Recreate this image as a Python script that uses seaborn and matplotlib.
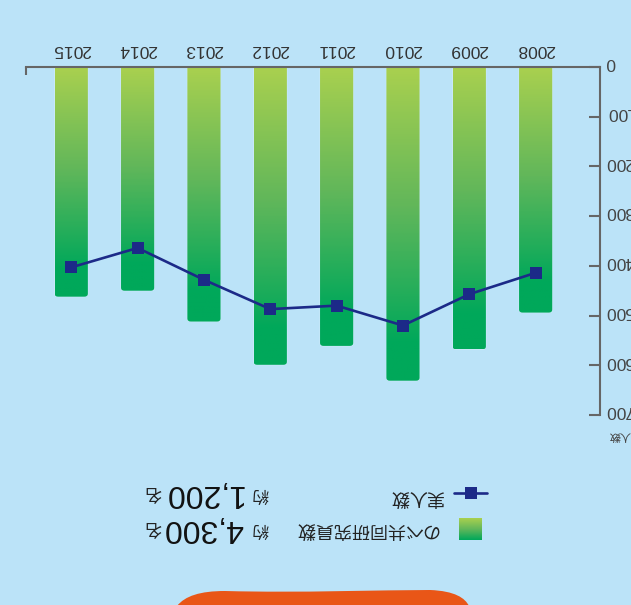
import numpy as np
import pandas as pd
import matplotlib
matplotlib.use("Agg")
import matplotlib.pyplot as plt
import matplotlib.transforms as mtransforms
import seaborn as sns
from matplotlib.patches import FancyBboxPatch, PathPatch
from matplotlib.path import Path
from matplotlib.lines import Line2D
from matplotlib.colors import LinearSegmentedColormap

# データ
years = ['2008', '2009', '2010', '2011', '2012', '2013', '2014', '2015']
nobe = [494, 568, 631, 561, 599, 512, 450, 462]      # のべ共同研究員数
jitsu = [414, 457, 520, 480, 487, 428, 364, 403]     # 実人数
yticks = [0, 100, 200, 300, 400, 500, 600, 700]

legend_bar = 'のべ共同研究員数'
legend_line = '実人数'
total_bar = '4,300'
total_line = '1,200'

BG = '#bbe3f8'
NAVY = '#1c2a88'
GRAY = '#666666'

sns.set_style('white')
plt.rcParams['font.family'] = ['Liberation Sans', 'Noto Sans CJK JP', 'DejaVu Sans']

W, H = 631, 605
fig = plt.figure(figsize=(W / 100, H / 100), dpi=100, facecolor=BG)

def fx(px):
    return px / W

def fy(py):
    return 1 - py / H

ax = fig.add_axes([fx(25.5), fy(415), fx(600 - 25.5), (415 - 67) / H])
ax.set_facecolor(BG)

df = pd.DataFrame({'year': years, 'nobe': nobe})
sns.barplot(data=df, x='year', y='nobe', order=years, width=0.5, color='#a8cf50', ax=ax)

# グラデーション（棒ごと）
cmap = LinearSegmentedColormap.from_list('g', ['#a9d04f', '#62b75a', '#00a85a'])
grad = np.linspace(0, 1, 256)
grad = np.clip(grad / 0.88, 0, 1).reshape(-1, 1)

bars = list(ax.patches)
for p in bars:
    x0, w, h = p.get_x(), p.get_width(), p.get_height()
    p.set_visible(False)
    shape = FancyBboxPatch((x0, -20), w, h + 20,
                           boxstyle='round,pad=0,rounding_size=0.05',
                           mutation_aspect=120, facecolor='none',
                           edgecolor=(1, 1, 1, 0.25), linewidth=0.8)
    ax.add_patch(shape)
    im = ax.imshow(grad, cmap=cmap, vmin=0, vmax=1, aspect='auto',
                   extent=(x0, x0 + w, h, 0), origin='upper', zorder=1)
    im.set_clip_path(shape)

sns.lineplot(x=np.arange(len(years)), y=jitsu, color=NAVY, linewidth=1.9,
             marker='s', markersize=8.5, markeredgewidth=0, ax=ax, zorder=3)

ax.set_xlim(7.69, -0.97)
ax.set_ylim(700, 0)
ax.set_xlabel('')
ax.set_ylabel('')

for s in ['left', 'bottom']:
    ax.spines[s].set_visible(False)
for s in ['top', 'right']:
    ax.spines[s].set_color(GRAY)
    ax.spines[s].set_linewidth(1.5)

ax.xaxis.tick_top()
ax.set_xticks(range(len(years)))
ax.set_xticklabels(years, rotation=180, fontsize=12.5, color='#333333')
ax.tick_params(axis='x', which='major', length=0, pad=7)
ax.set_xticks([7.69], minor=True)
ax.tick_params(axis='x', which='minor', direction='in', length=6, width=1.5, color=GRAY, top=True, bottom=False)

ax.yaxis.tick_right()
ax.set_yticks(yticks)
ax.set_yticklabels([str(v) for v in yticks], rotation=180, fontsize=12.5, color='#444444')
ax.tick_params(axis='y', direction='in', length=8, width=1.5, color=GRAY, pad=4)
shift = mtransforms.ScaledTranslation(0, 3 / 72, fig.dpi_scale_trans)
for lab in ax.get_yticklabels():
    lab.set_horizontalalignment('left')
    lab.set_verticalalignment('center')
    lab.set_transform(lab.get_transform() + shift)

fig.text(fx(608), fy(436), '人数', rotation=180, fontsize=8, color='#444444', ha='left', va='center')

# 凡例
fig.add_artist(Line2D([fx(454), fx(487)], [fy(493), fy(493)], color=NAVY, linewidth=1.9,
                      transform=fig.transFigure))
fig.add_artist(Line2D([fx(471)], [fy(493)], color=NAVY, marker='s', markersize=8.5,
                      markeredgewidth=0, transform=fig.transFigure))
lax = fig.add_axes([fx(459), fy(540), fx(23), 22 / H])
lax.imshow(np.linspace(0, 1, 64).reshape(-1, 1), cmap=cmap, aspect='auto')
lax.axis('off')

fig.text(fx(417), fy(497), legend_line, rotation=180, fontsize=13, color='#222222', ha='center', va='center')
fig.text(fx(366), fy(529), legend_bar, rotation=180, fontsize=13, color='#222222', ha='center', va='center')

for yc, val in [(494, total_line), (529, total_bar)]:
    fig.text(fx(260.5), fy(yc), '約', rotation=180, fontsize=12, color='#222222', ha='center', va='center')
    fig.text(fx(243), fy(yc - 1), val, rotation=180, fontsize=23, color='#111111', ha='right', va='center')
    fig.text(fx(153), fy(yc - 2), '名', rotation=180, fontsize=12.5, color='#222222', ha='center', va='center')

# 下部のオレンジの装飾
verts = [(177, 606), (185, 596), (200, 591), (225, 591),
         (300, 593), (380, 590), (430, 590),
         (455, 591), (465, 598), (469, 606), (177, 606)]
codes = [Path.MOVETO, Path.CURVE4, Path.CURVE4, Path.CURVE4,
         Path.CURVE4, Path.CURVE4, Path.CURVE4,
         Path.CURVE4, Path.CURVE4, Path.CURVE4, Path.CLOSEPOLY]
blob = Path([(fx(a), fy(b)) for a, b in verts], codes)
fig.add_artist(PathPatch(blob, facecolor='#e95617', edgecolor='none', transform=fig.transFigure))

fig.savefig('out.png', dpi=100, facecolor=BG)
